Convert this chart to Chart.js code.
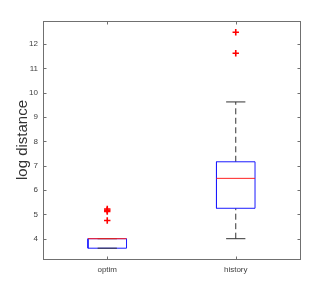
<!DOCTYPE html>
<html><head><meta charset="utf-8">
<script src="https://cdn.jsdelivr.net/npm/chart.js@4"></script>
<style>html,body{margin:0;padding:0;background:#fff}</style>
</head><body>
<canvas id="c" width="332" height="291"></canvas>
<script>
// ---- data ----
const categories = ['optim', 'history'];
const positions = [1, 2];
const q1 = [3.61, 5.25];
const medians = [4.0, 6.48];
const q3 = [4.0, 7.16];
const whiskerLow = [3.61, 4.0];
const whiskerHigh = [4.0, 9.62];
const outliers = [[5.22, 5.17, 5.12, 4.75], [12.48, 11.62]];
const yTicks = [4, 5, 6, 7, 8, 9, 10, 11, 12];
const yRange = [3.166, 12.945];

// ---- styles ----
const BOX_HALF = 0.15, CAP_HALF = 0.075;
const datasets = [];
positions.forEach((p, i) => {
  const line = (pts, color, dash, order) => ({
    data: pts, showLine: true, borderColor: color, borderWidth: 1,
    borderDash: dash || [], pointRadius: 0, fill: false, order: order
  });
  datasets.push(line([{x: p, y: q3[i]}, {x: p, y: whiskerHigh[i]}], '#333', [6, 3.5], 6));
  datasets.push(line([{x: p, y: whiskerLow[i]}, {x: p, y: q1[i]}], '#333', [6, 3.5], 6));
  datasets.push(line([
    {x: p - BOX_HALF, y: q1[i]}, {x: p + BOX_HALF, y: q1[i]},
    {x: p + BOX_HALF, y: q3[i]}, {x: p - BOX_HALF, y: q3[i]},
    {x: p - BOX_HALF, y: q1[i]}], '#1a1aff', null, 5));
  datasets.push(line([{x: p - CAP_HALF, y: whiskerHigh[i]}, {x: p + CAP_HALF, y: whiskerHigh[i]}], '#333', null, 4));
  datasets.push(line([{x: p - CAP_HALF, y: whiskerLow[i]}, {x: p + CAP_HALF, y: whiskerLow[i]}], '#333', null, 4));
  datasets.push(line([{x: p - BOX_HALF, y: medians[i]}, {x: p + BOX_HALF, y: medians[i]}], '#ff2020', null, 3));
  datasets.push({
    data: outliers[i].map(v => ({x: p, y: v})), showLine: false,
    pointStyle: 'cross', pointRadius: 3.2, borderWidth: 1.6,
    borderColor: '#ff0000', backgroundColor: '#ff0000', order: 1
  });
});

const frame = {
  id: 'frame',
  afterDraw(chart) {
    const {ctx, chartArea: a, scales: {x, y}} = chart;
    const L = Math.round(a.left) + 0.5, R = Math.round(a.right) + 0.5;
    const T = Math.round(a.top) + 0.5, B = Math.round(a.bottom) + 0.5;
    ctx.save();
    ctx.strokeStyle = '#707070';
    ctx.lineWidth = 1;
    ctx.strokeRect(L, T, R - L, B - T);
    ctx.beginPath();
    yTicks.forEach(v => {
      const py = Math.round(y.getPixelForValue(v)) + 0.5;
      ctx.moveTo(L, py); ctx.lineTo(L + 3, py);
      ctx.moveTo(R, py); ctx.lineTo(R - 3, py);
    });
    positions.forEach(v => {
      const px = Math.round(x.getPixelForValue(v)) + 0.5;
      ctx.moveTo(px, B); ctx.lineTo(px, B - 3);
      ctx.moveTo(px, T); ctx.lineTo(px, T + 3);
    });
    ctx.stroke();
    ctx.restore();
  }
};

new Chart(document.getElementById('c'), {
  type: 'scatter',
  data: {datasets},
  options: {
    responsive: false, animation: false, devicePixelRatio: 1,
    layout: {padding: {top: 21, right: 32, left: 0, bottom: 0}},
    plugins: {legend: {display: false}, tooltip: {enabled: false}},
    scales: {
      x: {
        type: 'linear', min: 0.5, max: 2.5,
        afterBuildTicks: s => { s.ticks = positions.map(v => ({value: v})); },
        ticks: {
          callback: v => categories[positions.indexOf(v)] || '',
          font: {family: 'Liberation Sans', size: 8}, color: '#404040', padding: 6,
          maxRotation: 0, autoSkip: false
        },
        grid: {display: false, drawTicks: false},
        border: {display: false},
        afterFit: s => { s.height = 32; }
      },
      y: {
        type: 'linear', min: yRange[0], max: yRange[1],
        afterBuildTicks: s => { s.ticks = yTicks.map(v => ({value: v})); },
        ticks: {font: {family: 'Liberation Sans', size: 8}, color: '#404040', padding: 5},
        grid: {display: false, drawTicks: false},
        border: {display: false},
        title: {display: true, text: 'log distance', color: '#333333',
                font: {family: 'Liberation Sans', size: 15}, padding: {top: 13.5, bottom: 0}},
        afterFit: s => { s.width = 43; }
      }
    }
  },
  plugins: [frame]
});
</script>
</body></html>
